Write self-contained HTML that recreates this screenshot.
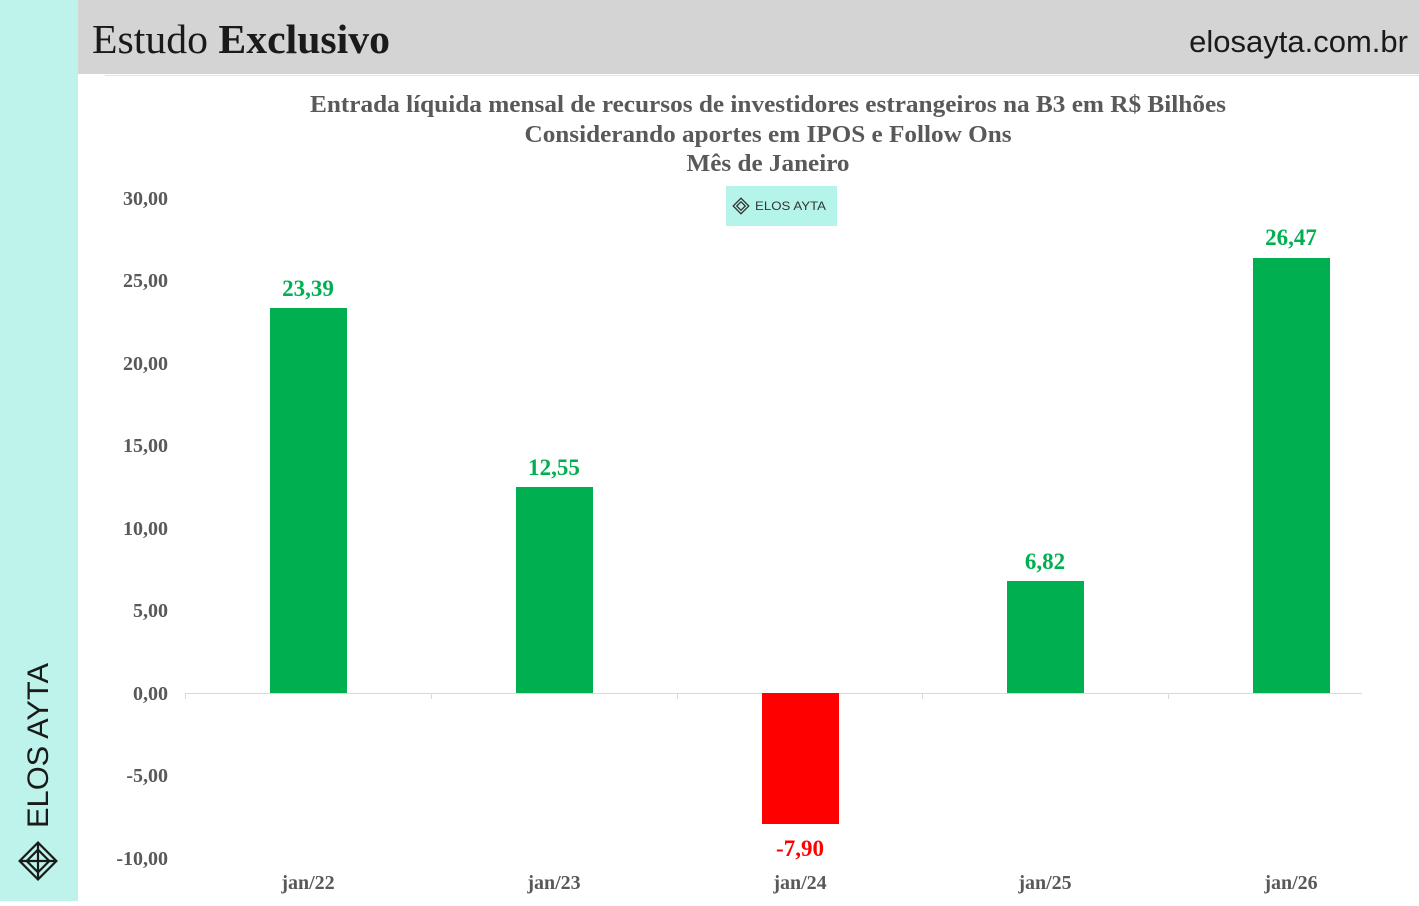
<!DOCTYPE html>
<html><head><meta charset="utf-8"><style>
body{margin:0;width:1419px;height:901px;overflow:hidden;background:#fff;font-family:"Liberation Serif",serif;}
</style></head><body>
<svg width="1419" height="901" xmlns="http://www.w3.org/2000/svg">
<rect x="0" y="0" width="78" height="901" fill="#bdf3eb"/>
<rect x="78" y="0" width="1341" height="74" fill="#d4d4d4"/>
<line x1="105" y1="75.5" x2="1419" y2="75.5" stroke="#e4e4e4" stroke-width="1"/>
<text x="92" y="53" font-family="Liberation Serif,serif" font-size="41" fill="#1a1a1a" textLength="298" lengthAdjust="spacingAndGlyphs">Estudo <tspan font-weight="bold">Exclusivo</tspan></text>
<text x="1408" y="52" text-anchor="end" font-family="Liberation Sans,sans-serif" font-size="31" fill="#1a1a1a">elosayta.com.br</text>
<text transform="translate(48,828) rotate(-90)" font-family="Liberation Sans,sans-serif" font-size="30" fill="#1a1a1a" textLength="165" lengthAdjust="spacingAndGlyphs">ELOS AYTA</text>
<g fill="none" stroke="#1a1a1a" stroke-width="2.2" transform="translate(38,861)">
<rect x="-13" y="-13" width="26" height="26" transform="rotate(45)"/>
<rect x="-8" y="-8" width="16" height="16" transform="rotate(45)"/>
<line x1="-18" y1="0" x2="18" y2="0"/>
<line x1="0" y1="-18" x2="0" y2="18"/>
</g>
<g font-family="Liberation Serif,serif" font-weight="bold" fill="#595959" text-anchor="middle" font-size="24">
<text x="768" y="112" textLength="916" lengthAdjust="spacingAndGlyphs">Entrada líquida mensal de recursos de investidores estrangeiros na B3 em R$ Bilhões</text>
<text x="768" y="142" textLength="487" lengthAdjust="spacingAndGlyphs">Considerando aportes em IPOS e Follow Ons</text>
<text x="768" y="171" textLength="163" lengthAdjust="spacingAndGlyphs">Mês de Janeiro</text>
</g>
<rect x="726" y="186" width="111" height="40" fill="#b5f4e8"/>
<g fill="none" stroke="#333" stroke-width="1.3" transform="translate(741,206)">
<rect x="-5.5" y="-5.5" width="11" height="11" transform="rotate(45)"/>
<rect x="-3" y="-3" width="6" height="6" transform="rotate(45)"/>
</g>
<text x="755" y="210" font-family="Liberation Sans,sans-serif" font-size="12" fill="#333" textLength="71" lengthAdjust="spacingAndGlyphs">ELOS AYTA</text>
<g font-family="Liberation Serif,serif" font-weight="bold" fill="#595959" font-size="20" text-anchor="end">
<text x="168" y="205">30,00</text><text x="168" y="287">25,00</text><text x="168" y="370">20,00</text>
<text x="168" y="452">15,00</text><text x="168" y="535">10,00</text><text x="168" y="617">5,00</text>
<text x="168" y="700">0,00</text><text x="168" y="782">-5,00</text><text x="168" y="865">-10,00</text>
</g>
<line x1="185" y1="693.5" x2="1362" y2="693.5" stroke="#d9d9d9"/>
<g stroke="#d9d9d9"><line x1="185.5" y1="693" x2="185.5" y2="699"/><line x1="431.5" y1="693" x2="431.5" y2="699"/><line x1="677.5" y1="693" x2="677.5" y2="699"/><line x1="922.5" y1="693" x2="922.5" y2="699"/><line x1="1168.5" y1="693" x2="1168.5" y2="699"/></g>
<rect x="270" y="308" width="77" height="385" fill="#00b050"/>
<rect x="516" y="487" width="77" height="206" fill="#00b050"/>
<rect x="762" y="693" width="77" height="131" fill="#ff0000"/>
<rect x="1007" y="581" width="77" height="112" fill="#00b050"/>
<rect x="1253" y="258" width="77" height="435" fill="#00b050"/>
<g font-family="Liberation Serif,serif" font-weight="bold" font-size="23" text-anchor="middle">
<text x="308" y="296" fill="#00b050">23,39</text>
<text x="554" y="475" fill="#00b050">12,55</text>
<text x="800" y="856" fill="#ff0000">-7,90</text>
<text x="1045" y="569" fill="#00b050">6,82</text>
<text x="1291" y="245" fill="#00b050">26,47</text>
</g>
<g font-family="Liberation Serif,serif" font-weight="bold" font-size="20" fill="#595959" text-anchor="middle">
<text x="308" y="889">jan/22</text><text x="554" y="889">jan/23</text><text x="800" y="889">jan/24</text><text x="1045" y="889">jan/25</text><text x="1291" y="889">jan/26</text>
</g>
</svg>
</body></html>
